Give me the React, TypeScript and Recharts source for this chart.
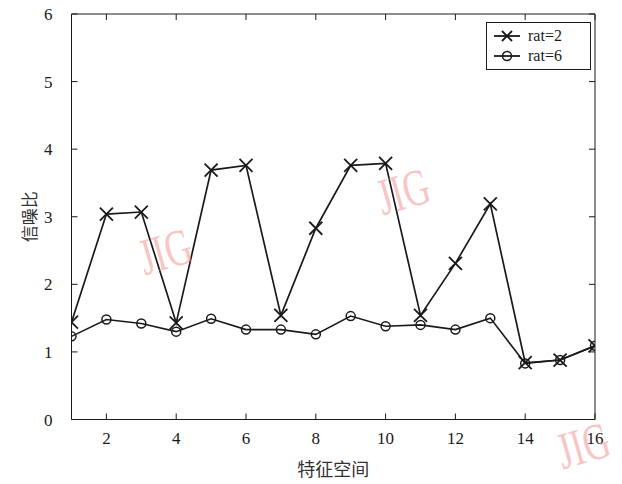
import { LineChart, Line, XAxis, YAxis } from 'recharts';

const featureSpace = [1, 2, 3, 4, 5, 6, 7, 8, 9, 10, 11, 12, 13, 14, 15, 16];
const rat2 = [1.44, 3.04, 3.07, 1.43, 3.69, 3.76, 1.54, 2.83, 3.76, 3.79, 1.54, 2.31, 3.19, 0.84, 0.88, 1.09];
const rat6 = [1.23, 1.48, 1.42, 1.30, 1.49, 1.33, 1.33, 1.26, 1.53, 1.38, 1.40, 1.33, 1.50, 0.83, 0.88, 1.09];
const xTicks = [2, 4, 6, 8, 10, 12, 14, 16];
const yTicks = [0, 1, 2, 3, 4, 5, 6];
const seriesNames = ['rat=2', 'rat=6'];

const data = featureSpace.map((x, i) => ({ x, rat2: rat2[i], rat6: rat6[i] }));

const INK = '#1a1a1a';
const SERIF = '"Liberation Serif", "DejaVu Serif", serif';
const CJK = '"Noto Sans CJK SC", sans-serif';

function CrossDot(props: any) {
  const { cx, cy, index } = props;
  if (cx == null || cy == null) return <g key={index} />;
  const s = 6.5;
  return (
    <g key={index} stroke={INK} strokeWidth={1.8}>
      <line x1={cx - s} y1={cy - s} x2={cx + s} y2={cy + s} />
      <line x1={cx - s} y1={cy + s} x2={cx + s} y2={cy - s} />
    </g>
  );
}

function CircleDot(props: any) {
  const { cx, cy, index } = props;
  if (cx == null || cy == null) return <g key={index} />;
  return <circle key={index} cx={cx} cy={cy} r={4.5} fill="none" stroke={INK} strokeWidth={1.5} />;
}

const LeftTick = (props: any) => {
  const { x, y, payload } = props;
  return (
    <g>
      <line x1={x} y1={y} x2={x + 6} y2={y} stroke={INK} strokeWidth={1} />
      <text x={x - 19} y={y} dy={6} textAnchor="end" fontSize={17} fontFamily={SERIF} fill={INK}>
        {payload.value}
      </text>
    </g>
  );
};

const RightTick = (props: any) => {
  const { x, y } = props;
  return <line x1={x} y1={y} x2={x - 6} y2={y} stroke={INK} strokeWidth={1} />;
};

const BottomTick = (props: any) => {
  const { x, y, payload } = props;
  return (
    <g>
      <line x1={x} y1={y} x2={x} y2={y - 6} stroke={INK} strokeWidth={1} />
      <text x={x} y={y} dy={24} textAnchor="middle" fontSize={17} fontFamily={SERIF} fill={INK}>
        {payload.value}
      </text>
    </g>
  );
};

const TopTick = (props: any) => {
  const { x, y } = props;
  return <line x1={x} y1={y} x2={x} y2={y + 6} stroke={INK} strokeWidth={1} />;
};

function LegendBox() {
  const row = (i: number) => (
    <div key={i} style={{ display: 'flex', alignItems: 'center', height: 20 }}>
      <svg width={30} height={16} style={{ marginRight: 6 }}>
        <line x1={2} y1={8} x2={28} y2={8} stroke={INK} strokeWidth={1.8} />
        {i === 0 ? (
          <g stroke={INK} strokeWidth={1.8}>
            <line x1={10} y1={3} x2={20} y2={13} />
            <line x1={10} y1={13} x2={20} y2={3} />
          </g>
        ) : (
          <circle cx={15} cy={8} r={4.5} fill="none" stroke={INK} strokeWidth={1.5} />
        )}
      </svg>
      <span style={{ fontFamily: SERIF, fontSize: 16, color: INK }}>{seriesNames[i]}</span>
    </div>
  );
  return (
    <div
      style={{
        position: 'absolute',
        left: 486,
        top: 22,
        border: `1px solid ${INK}`,
        background: '#fff',
        padding: '3px 6px 3px 5px',
        width: 92,
        boxSizing: 'content-box',
      }}
    >
      {row(0)}
      {row(1)}
    </div>
  );
}

// "JIG" watermarks printed over the original figure
const marks = [
  { left: 134, top: 238, rot: -16 },
  { left: 372, top: 178, rot: -16 },
  { left: 552, top: 432, rot: -16 },
];

export default function App() {
  return (
    <div style={{ position: 'absolute', left: 0, top: 0, width: 622, height: 484, background: '#fff', overflow: 'hidden' }}>
      <LineChart
        width={622}
        height={484}
        data={data}
        margin={{ top: 13, right: 26, bottom: 0, left: 0 }}
      >
        <XAxis
          xAxisId="bottom"
          dataKey="x"
          type="number"
          domain={[1, 16]}
          ticks={xTicks}
          allowDataOverflow
          height={64.5}
          tickSize={0}
          tickMargin={0}
          tick={BottomTick}
          stroke={INK}
          label={{ value: '特征空间', position: 'insideBottom', offset: 8, fontSize: 18, fontFamily: CJK, fill: '#333' }}
        />
        <XAxis
          xAxisId="top"
          orientation="top"
          dataKey="x"
          type="number"
          domain={[1, 16]}
          ticks={xTicks}
          allowDataOverflow
          height={1}
          tickSize={0}
          tickMargin={0}
          tick={TopTick}
          stroke={INK}
        />
        <YAxis
          yAxisId="left"
          type="number"
          domain={[0, 6]}
          ticks={yTicks}
          allowDataOverflow
          width={71.5}
          tickSize={0}
          tickMargin={0}
          tick={LeftTick}
          stroke={INK}
          label={{ value: '信噪比', angle: -90, position: 'center', dx: -6, fontSize: 17, fontFamily: CJK, fill: '#333' }}
        />
        <YAxis
          yAxisId="right"
          orientation="right"
          type="number"
          domain={[0, 6]}
          ticks={yTicks}
          allowDataOverflow
          width={1}
          tickSize={0}
          tickMargin={0}
          tick={RightTick}
          stroke={INK}
        />
        <Line
          xAxisId="bottom"
          yAxisId="left"
          dataKey="rat2"
          name={seriesNames[0]}
          stroke={INK}
          strokeWidth={1.7}
          dot={CrossDot}
          activeDot={false}
          isAnimationActive={false}
        />
        <Line
          xAxisId="top"
          yAxisId="right"
          dataKey="rat6"
          name={seriesNames[1]}
          stroke={INK}
          strokeWidth={1.6}
          dot={CircleDot}
          activeDot={false}
          isAnimationActive={false}
        />
      </LineChart>
      <LegendBox />
      {marks.map((m, i) => (
        <div
          key={i}
          style={{
            position: 'absolute',
            left: m.left,
            top: m.top,
            width: 80,
            fontFamily: SERIF,
            fontSize: 52,
            color: 'rgba(240, 140, 140, 0.5)',
            transform: `rotate(${m.rot}deg) scaleX(0.7)`,
            transformOrigin: 'left top',
            pointerEvents: 'none',
            lineHeight: 0.85,
          }}
        >
          JIG
        </div>
      ))}
    </div>
  );
}
